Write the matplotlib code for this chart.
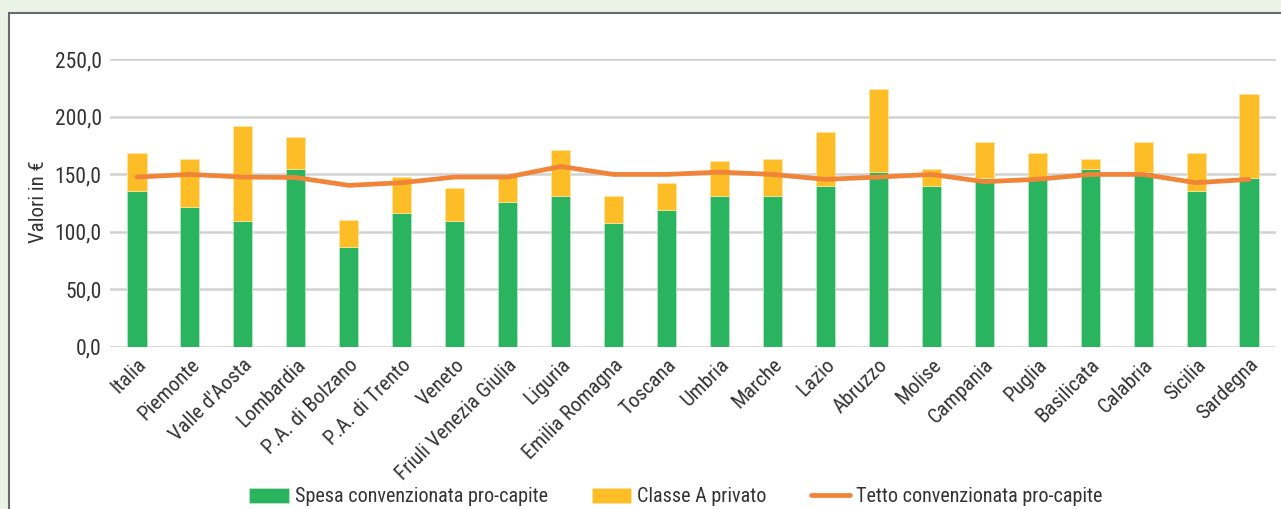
import matplotlib.pyplot as plt
from matplotlib import font_manager
from matplotlib.patches import Rectangle
from matplotlib.ticker import FuncFormatter

regioni = ["Italia", "Piemonte", "Valle d'Aosta", "Lombardia", "P.A. di Bolzano",
           "P.A. di Trento", "Veneto", "Friuli Venezia Giulia", "Liguria",
           "Emilia Romagna", "Toscana", "Umbria", "Marche", "Lazio", "Abruzzo",
           "Molise", "Campania", "Puglia", "Basilicata", "Calabria", "Sicilia",
           "Sardegna"]

# spesa convenzionata pro-capite (green)
spesa_conv = [135.3, 121.8, 109.4, 154.0, 86.4, 116.6, 109.4, 126.1, 130.7,
              107.4, 118.9, 130.7, 130.7, 139.9, 151.7, 139.9, 146.8, 146.8,
              154.0, 151.7, 135.6, 146.8]

# bar tops (green + yellow)
totale = [168.4, 163.5, 191.4, 182.0, 110.0, 147.4, 137.9, 149.1, 170.5,
          131.0, 142.5, 161.2, 163.5, 186.9, 224.3, 154.3, 177.6, 168.1,
          163.5, 177.6, 168.1, 219.3]
classe_a = [round(t - s, 1) for t, s in zip(totale, spesa_conv)]

# tetto convenzionata pro-capite (orange line)
tetto = [147.4, 149.7, 147.4, 147.0, 140.2, 142.5, 147.4, 147.4, 156.6,
         149.7, 149.7, 151.7, 149.7, 145.4, 147.4, 149.7, 143.4, 145.4,
         149.7, 149.7, 142.5, 145.4]

# pick a narrow font if one is around
installed = {f.name for f in font_manager.fontManager.ttflist}
fs = 13
fam = 'Liberation Sans'
for cand in ['Liberation Sans Narrow', 'Roboto Condensed', 'Open Sans Condensed',
             'Noto Sans Condensed', 'DejaVu Sans Condensed']:
    if cand in installed:
        fam = cand
        fs = 15
        break
plt.rcParams['font.family'] = [fam, 'DejaVu Sans']

verde = '#2bb45f'
giallo = '#fdbd27'
arancio = '#f08438'
testo = '#333333'

fig = plt.figure(figsize=(12.81, 5.09), dpi=100)
fig.patch.set_facecolor('#ebf2e6')
fig.patches.append(Rectangle((9 / 1281, -0.1), 1.1, (509 - 13.5) / 509 + 0.1,
                             transform=fig.transFigure, facecolor='white',
                             edgecolor='#6a6a6a', linewidth=1.5, zorder=-10))

ax = fig.add_axes([110 / 1281, 1 - 346.7 / 509, (1276 - 110) / 1281, (346.7 - 59) / 509])
ax.set_facecolor('none')

x = range(len(regioni))
b1 = ax.bar(x, spesa_conv, width=0.36, color=verde, edgecolor='#bfe8c9', linewidth=0.5,
            label='Spesa convenzionata pro-capite', zorder=2)
b2 = ax.bar(x, classe_a, width=0.36, bottom=spesa_conv, color=giallo, edgecolor='#ffe6a6',
            linewidth=0.5, label='Classe A privato', zorder=2)
l1, = ax.plot(x, tetto, color=arancio, linewidth=3.4, solid_capstyle='round',
              label='Tetto convenzionata pro-capite', zorder=3)

ax.set_xlim(-0.51, len(regioni) - 0.49)
ax.set_ylim(0, 250)
ax.set_yticks([0, 50, 100, 150, 200, 250])
ax.yaxis.set_major_formatter(FuncFormatter(lambda v, p: f"{v:.1f}".replace('.', ',')))
ax.grid(axis='y', color='#d2d2d2', linewidth=1.8, zorder=0)
for s in ax.spines.values():
    s.set_visible(False)
ax.tick_params(axis='both', length=0, labelsize=fs + 0.5, colors=testo)
ax.tick_params(axis='y', pad=6)
ax.set_xticks(list(x))
ax.set_xticklabels(regioni, rotation=45, ha='right', rotation_mode='anchor',
                   fontsize=fs, color=testo)
ax.tick_params(axis='x', pad=6)

fig.text(38 / 1281, 1 - 202 / 509, 'Valori in €', rotation=90, ha='center',
         va='center', fontsize=fs, color=testo)

fig.legend([b1, b2, l1], [b1.get_label(), b2.get_label(), l1.get_label()],
           loc='center', bbox_to_anchor=(676 / 1281, 1 - 497 / 509), ncol=3,
           frameon=False, fontsize=fs - 0.5, handlelength=1.95, handleheight=0.7,
           columnspacing=2.2, handletextpad=0.3, labelcolor=testo)

fig.savefig('out.png', dpi=100, facecolor=fig.get_facecolor())
